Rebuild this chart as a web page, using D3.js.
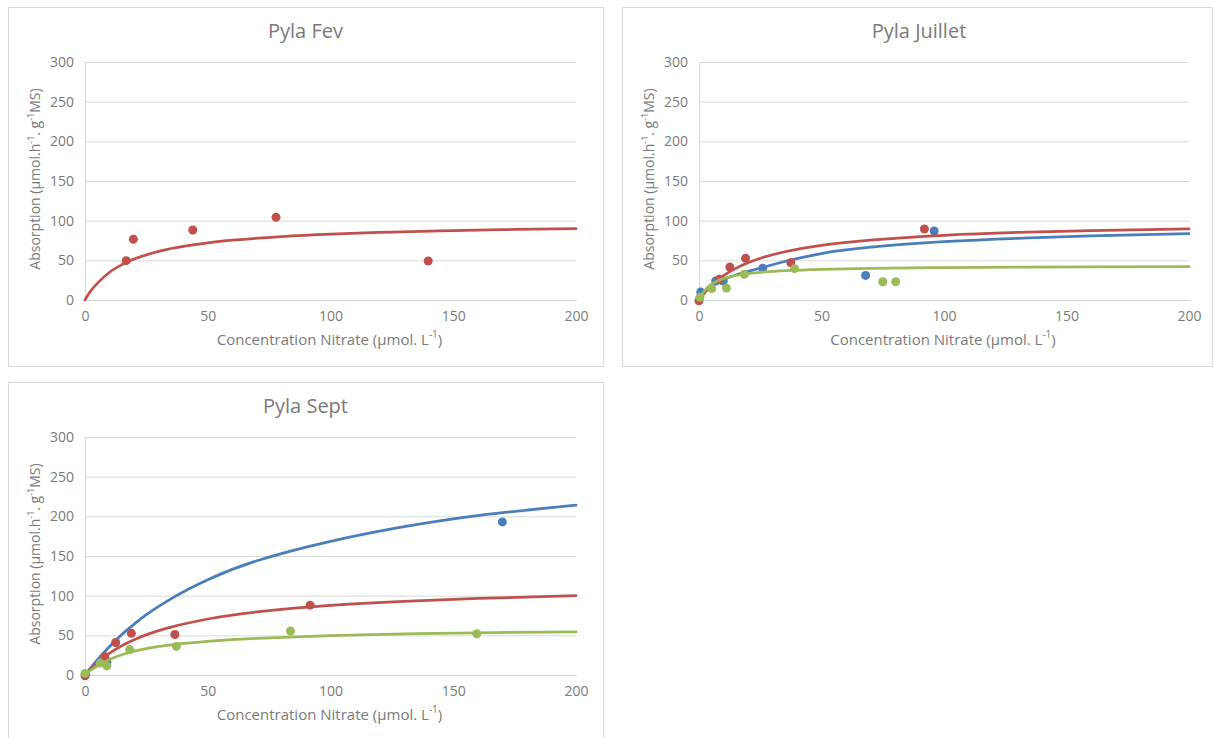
<!DOCTYPE html>
<html>
<head>
<meta charset="utf-8">
<script src="https://cdn.jsdelivr.net/npm/d3@7"></script>
<style>
  html, body { margin: 0; padding: 0; background: #ffffff; }
  svg { display: block; }
  text { font-family: "Open Sans", "Lato", sans-serif; fill: #7a7a7a; font-weight: 400; }
</style>
</head>
<body>
<svg id="chart" width="1214" height="738"></svg>
<script>
// Nitrate uptake kinetics at Pyla: measured points and fitted curves per sampling month.
const xTicks = [0, 50, 100, 150, 200];
const yTicks = [0, 50, 100, 150, 200, 250, 300];
const colors = { blue: "#4a7ebb", red: "#c0504d", green: "#9bbb59" };

// Pyla Fev
const fevRedPts = [[16.8, 49.6], [19.7, 76.5], [43.9, 88.2], [77.8, 104.2], [139.8, 49.2]];
const fevRedFit = [[0, 0], [2, 10], [5, 21], [10, 35], [15, 44.5], [20, 51.6], [30, 61.3], [40, 67.6],
                   [50, 72.1], [60, 75.4], [80, 80], [100, 83.1], [125, 85.7], [150, 87.5], [175, 88.9], [200, 89.9]];

// Pyla Juillet
const julBluePts = [[0.7, 10], [6.8, 24], [9.9, 24], [26, 40], [68, 31], [96, 87]];
const julRedPts = [[0, -1], [8.3, 26], [12.6, 41.5], [19, 52.5], [37.5, 47], [92, 89.5]];
const julGreenPts = [[0.4, 3.5], [5.2, 14.5], [11.2, 15], [18.5, 32.5], [39, 39.5], [75, 23], [80.3, 23]];
const julBlueFit = [[0, 2], [1, 7], [3, 13], [6, 20], [10, 26], [15, 31.5], [20, 36], [26, 41], [35, 48.5],
                    [50, 58.5], [70, 66.5], [100, 73.5], [130, 77.8], [160, 80.8], [200, 83.6]];
const julRedFit = [[0, 0], [1, 4.2], [3, 11.7], [6, 21], [10, 30.7], [15, 39.9], [20, 46.9], [26, 53.5], [35, 60.8],
                   [50, 68.9], [70, 75.6], [100, 81.6], [130, 85.2], [160, 87.6], [200, 89.8]];
const julGreenFit = [[0, 0], [1, 6.2], [3, 14.4], [6, 21.7], [10, 27.1], [15, 30.9], [20, 33.3], [26, 35.2], [35, 37],
                     [50, 38.7], [70, 39.9], [100, 40.8], [130, 41.4], [160, 41.7], [200, 42]];

// Pyla Sept
const sepBluePts = [[0.3, 1], [8.9, 16], [170, 193]];
const sepRedPts = [[0, -1], [8.1, 23], [12.5, 41], [18.9, 52.5], [36.6, 51], [91.7, 88]];
const sepGreenPts = [[0, 2], [6.2, 15], [8.9, 11.5], [18.2, 32], [37.2, 36], [83.7, 55.5], [159.6, 52]];
const sepBlueFit = [[0, 0], [5, 19], [10, 36], [15, 51], [20, 64], [25, 76], [35, 96], [50, 120],
                    [70, 144], [100, 168.5], [130, 187], [160, 201], [200, 214]];
const sepRedFit = [[0, 0], [3, 9.9], [6, 18.2], [10, 27.5], [15, 36.9], [20, 44.4], [26, 51.8], [35, 60.4],
                   [50, 70.6], [70, 79.5], [100, 87.7], [130, 92.9], [160, 96.6], [200, 99.9]];
const sepGreenFit = [[0, 0], [3, 7.3], [6, 13], [10, 19.5], [15, 25.5], [20, 30], [26, 34], [35, 38],
                     [50, 42.3], [70, 46.2], [100, 49.6], [130, 51.8], [160, 53.2], [200, 54.5]];

const panels = [
  { title: "Pyla Fev", box: [8.5, 7.5, 595, 359], plot: [85, 576, 62, 300],
    series: [{ c: "red", pts: fevRedPts, fit: fevRedFit }] },
  { title: "Pyla Juillet", box: [622.5, 7.5, 590, 359], plot: [699, 1189, 62, 300],
    series: [{ c: "blue", pts: julBluePts, fit: julBlueFit },
             { c: "red", pts: julRedPts, fit: julRedFit },
             { c: "green", pts: julGreenPts, fit: julGreenFit }] },
  { title: "Pyla Sept", box: [8.5, 382.5, 595, 370], plot: [85, 576, 437, 675],
    series: [{ c: "blue", pts: sepBluePts, fit: sepBlueFit },
             { c: "red", pts: sepRedPts, fit: sepRedFit },
             { c: "green", pts: sepGreenPts, fit: sepGreenFit }] }
];

const svg = d3.select("#chart");
svg.append("rect").attr("width", 1214).attr("height", 738).attr("fill", "#ffffff");

panels.forEach(p => {
  const [bx, by, bw, bh] = p.box;
  const [left, right, top, bottom] = p.plot;
  const g = svg.append("g");

  g.append("rect").attr("x", bx).attr("y", by).attr("width", bw).attr("height", bh)
    .attr("fill", "#ffffff").attr("stroke", "#d9d9d9").attr("stroke-width", 1);

  const x = d3.scaleLinear().domain([0, 200]).range([left, right]);
  const y = d3.scaleLinear().domain([0, 300]).range([bottom, top]);

  // horizontal gridlines and value labels
  const yAxis = d3.axisLeft(y).tickValues(yTicks).tickSize(-(right - left)).tickPadding(11);
  const ya = g.append("g").attr("transform", `translate(${left},0)`).call(yAxis);
  ya.select(".domain").attr("stroke", "#d9d9d9");
  ya.selectAll(".tick line").attr("stroke", "#d9d9d9");
  ya.selectAll(".tick text").style("font-size", "14px").style("font-family", "'Open Sans', sans-serif")
    .attr("fill", "#7a7a7a");

  const xAxis = d3.axisBottom(x).tickValues(xTicks).tickSize(0).tickPadding(11);
  const xa = g.append("g").attr("transform", `translate(0,${bottom})`).call(xAxis);
  xa.select(".domain").attr("stroke", "#d0d0d0");
  xa.selectAll(".tick text").style("font-size", "14px").style("font-family", "'Open Sans', sans-serif")
    .attr("fill", "#7a7a7a");

  // title
  g.append("text").attr("x", (left + right) / 2 - 25).attr("y", top - 24)
    .attr("text-anchor", "middle").style("font-size", "20px").attr("fill", "#595959")
    .text(p.title);

  // x-axis title
  const xt = g.append("text").attr("x", (left + right) / 2 - 1).attr("y", bottom + 45)
    .attr("text-anchor", "middle").style("font-size", "15px");
  xt.append("tspan").text("Concentration Nitrate (µmol. L");
  xt.append("tspan").attr("baseline-shift", "super").style("font-size", "10px").text("-1");
  xt.append("tspan").text(")");

  // y-axis title
  const yt = g.append("text")
    .attr("transform", `translate(${left - 45},${(top + bottom) / 2 - 2}) rotate(-90)`)
    .attr("text-anchor", "middle").style("font-size", "14px");
  yt.append("tspan").text("Absorption (µmol.h");
  yt.append("tspan").attr("baseline-shift", "super").style("font-size", "9px").text("-1");
  yt.append("tspan").text(". g");
  yt.append("tspan").attr("baseline-shift", "super").style("font-size", "9px").text("-1");
  yt.append("tspan").text("MS)");

  const line = d3.line().x(d => x(d[0])).y(d => y(d[1])).curve(d3.curveNatural);

  p.series.forEach(s => {
    g.append("path").datum(s.fit).attr("d", line)
      .attr("fill", "none").attr("stroke", colors[s.c]).attr("stroke-width", 2.75)
      .attr("stroke-linecap", "round");
    g.selectAll(null).data(s.pts).enter().append("circle")
      .attr("cx", d => x(d[0])).attr("cy", d => y(d[1])).attr("r", 4.5)
      .attr("fill", colors[s.c]);
  });
});
</script>
</body>
</html>
